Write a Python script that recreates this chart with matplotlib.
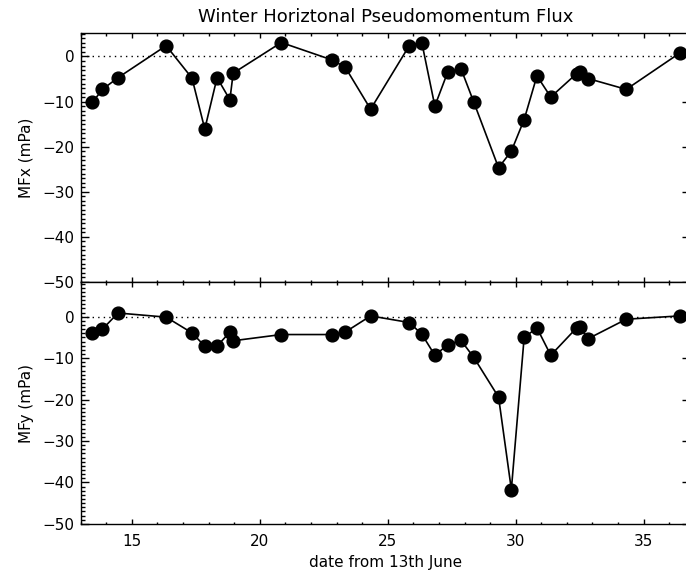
import numpy as np
import matplotlib.pyplot as plt
from matplotlib.ticker import MultipleLocator

# Tage seit 13. Juni (gleich fuer beide Komponenten)
days = [13.46, 13.85, 14.46, 16.34, 17.35, 17.85, 18.33, 18.83, 18.96, 20.84,
        22.84, 23.34, 24.33, 25.84, 26.33, 26.84, 27.34, 27.86, 28.36, 29.33,
        29.83, 30.33, 30.83, 31.37, 32.38, 32.52, 32.83, 34.32, 36.42]

# Pseudomomentum-Fluss (mPa)
mfx = [-10.2, -7.3, -4.7, 2.4, -4.8, -16.1, -4.7, -9.6, -3.7, 3.1,
       -0.8, -2.4, -11.7, 2.4, 3.1, -11.0, -3.5, -2.7, -10.1, -24.7,
       -21.0, -14.0, -4.3, -9.0, -3.8, -3.5, -4.9, -7.3, 0.8]
mfy = [-4.0, -3.0, 0.9, -0.1, -3.9, -7.1, -7.1, -3.7, -5.8, -4.3,
       -4.3, -3.7, 0.2, -1.4, -4.2, -9.3, -6.8, -5.7, -9.8, -19.4,
       -41.7, -5.0, -2.7, -9.3, -2.7, -2.6, -5.3, -0.6, 0.2]

panels = [("MFx (mPa)", mfx, (-50.0, 5.15)),
          ("MFy (mPa)", mfy, (-50.1, 8.45))]

fig = plt.figure(figsize=(6.86, 5.78), dpi=100)
ax1 = fig.add_axes([0.1176, 0.5126, 0.8882, 0.4298])
ax2 = fig.add_axes([0.1176, 0.0929, 0.8882, 0.4197], sharex=ax1)

for ax, (label, vals, ylim) in zip([ax1, ax2], panels):
    ax.plot(days, vals, "k-", lw=1.2, marker="o", ms=9.2, zorder=3)
    ax.axhline(0, color="k", ls=":", lw=1.0, dashes=(1, 3))
    ax.set_ylim(*ylim)
    ax.set_ylabel(label, fontsize=11)
    ax.yaxis.set_label_coords(-0.077, 0.5)
    ax.yaxis.set_major_locator(MultipleLocator(10))
    ax.yaxis.set_minor_locator(MultipleLocator(1))
    ax.xaxis.set_major_locator(MultipleLocator(5))
    ax.xaxis.set_minor_locator(MultipleLocator(1))
    ax.tick_params(which="both", direction="in", top=True, right=True, labelsize=11)
    ax.tick_params(axis="x", which="major", length=3.6, width=1, pad=7)
    ax.tick_params(axis="x", which="minor", length=1.8, width=1)
    ax.tick_params(axis="y", which="major", length=5.8, width=1, pad=4.5)
    ax.tick_params(axis="y", which="minor", length=3.0, width=1)
    for s in ax.spines.values():
        s.set_linewidth(1.0)

ax1.set_xlim(13.0, 36.81)
ax1.tick_params(labelbottom=False)
ax1.set_title("Winter Horiztonal Pseudomomentum Flux", fontsize=13, pad=8)
ax2.set_xlabel("date from 13th June", fontsize=11, labelpad=4)

fig.savefig("out.png", dpi=100)
